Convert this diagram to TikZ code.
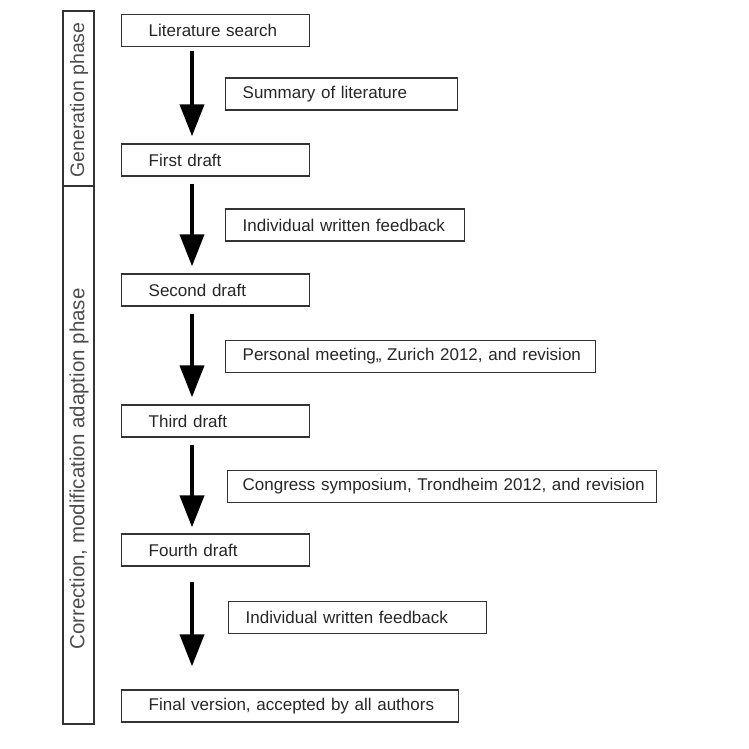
\documentclass[tikz,border=0pt]{standalone}
\usepackage{fontspec}
\setmainfont{Liberation Sans}
\usetikzlibrary{arrows.meta,calc}
\definecolor{boxline}{HTML}{333333}
\tikzset{
  stagebox/.style={draw=boxline, line width=1.4pt, anchor=west, minimum height=32pt,
    inner ysep=0pt, align=left, font=\fontsize{17}{19}\selectfont, text=black!85},
  mainbox/.style={stagebox, inner xsep=27pt},
  sidebox/.style={stagebox, inner xsep=17pt},
  phasebox/.style={draw=boxline, line width=1.4pt, minimum width=31pt, inner sep=0pt},
  phasetext/.style={rotate=90, font=\fontsize{19.5}{21}\selectfont, text=black!70},
  bigarrow/.style={line width=4pt, -{Triangle[width=24pt,length=32pt]}}
}
\begin{document}
\begin{tikzpicture}[x=1pt,y=-1pt]
\useasboundingbox (0,0) rectangle (749,748);
% phase boxes
\node[phasebox, minimum height=175pt] (gen) at (78.5,98.5) {};
\node[phasetext] (gentext) at (79,100) {Generation phase};
\node[phasebox, minimum height=538pt] (corr) at (78.5,455) {};
\node[phasetext, font=\fontsize{20.5}{22}\selectfont] (corrtext) at (79,469) {Correction, modification adaption phase};
% main boxes
\node[mainbox, text width=134pt] (lit) at (121,30.5) {\mbox{Literature search}};
\node[mainbox, text width=134pt] (first) at (121,160) {\mbox{First draft}};
\node[mainbox, text width=134pt] (second) at (121,290) {\mbox{Second draft}};
\node[mainbox, text width=134pt] (third) at (121,421) {\mbox{Third draft}};
\node[mainbox, text width=134pt] (fourth) at (121,550) {\mbox{Fourth draft}};
\node[mainbox, text width=283pt] (final) at (121,706) {\mbox{Final version, accepted by all authors}};
% side boxes
\node[sidebox, text width=198pt] (summary) at (225,94) {\mbox{Summary of literature}};
\node[sidebox, text width=205pt] (feedA) at (225,225) {\mbox{Individual written feedback}};
\node[sidebox, text width=336pt] (meeting) at (225,356.5) {\mbox{Personal meeting,, Zurich 2012, and revision}};
\node[sidebox, inner xsep=15pt, text width=399pt] (congress) at (227,486.5) {\mbox{Congress symposium, Trondheim 2012, and revision}};
\node[sidebox, text width=224pt] (feedB) at (228,617.5) {\mbox{Individual written feedback}};
% arrows
\coordinate (ax) at (192,0);
\draw[bigarrow] ([yshift=-4pt]lit.south -| ax) -- ([yshift=7pt]first.north -| ax);
\draw[bigarrow] ([yshift=-7pt]first.south -| ax) -- ([yshift=7pt]second.north -| ax);
\draw[bigarrow] ([yshift=-7pt]second.south -| ax) -- ([yshift=7pt]third.north -| ax);
\draw[bigarrow] ([yshift=-7pt]third.south -| ax) -- ([yshift=6pt]fourth.north -| ax);
\draw[bigarrow] ([yshift=-15pt]fourth.south -| ax) -- ([yshift=23pt]final.north -| ax);
\end{tikzpicture}
\end{document}
